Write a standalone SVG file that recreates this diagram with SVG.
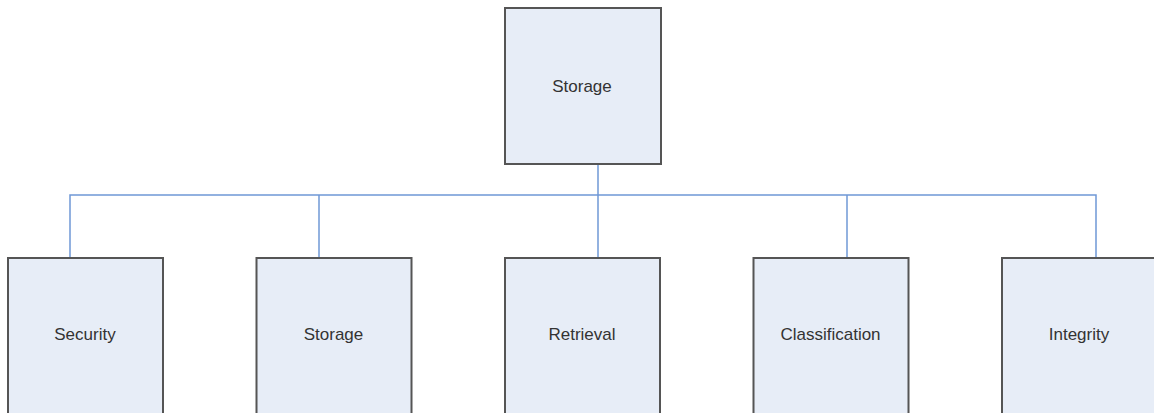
<svg xmlns="http://www.w3.org/2000/svg" width="1154" height="413" viewBox="0 0 1154 413">
<style>
.box{fill:#e7edf7;stroke:#555;stroke-width:2}
.lbl{font-family:"Liberation Sans",Arial,sans-serif;font-size:17px;fill:#333;text-anchor:middle}
.con{fill:none;stroke:#6f98d6;stroke-width:1.5}
</style>
<rect width="1154" height="413" fill="#fff"/>
<g id="connectors">
<path class="con" d="M598 164V258"/>
<path class="con" d="M70 258V195H1096V258"/>
<path class="con" d="M319 195V258"/>
<path class="con" d="M847 195V258"/>
</g>
<g id="n-top"><rect class="box" x="505" y="8" width="156" height="156"/><text class="lbl" x="582" y="92">Storage</text></g>
<g id="n-security"><rect class="box" x="8" y="258" width="155" height="157"/><text class="lbl" x="85" y="340">Security</text></g>
<g id="n-storage"><rect class="box" x="256.5" y="258" width="155" height="157"/><text class="lbl" x="333.5" y="340">Storage</text></g>
<g id="n-retrieval"><rect class="box" x="505" y="258" width="155" height="157"/><text class="lbl" x="582" y="340">Retrieval</text></g>
<g id="n-classification"><rect class="box" x="753.5" y="258" width="155" height="157"/><text class="lbl" x="830.5" y="340">Classification</text></g>
<g id="n-integrity"><rect class="box" x="1002" y="258" width="155" height="157"/><text class="lbl" x="1079" y="340">Integrity</text></g>
</svg>
